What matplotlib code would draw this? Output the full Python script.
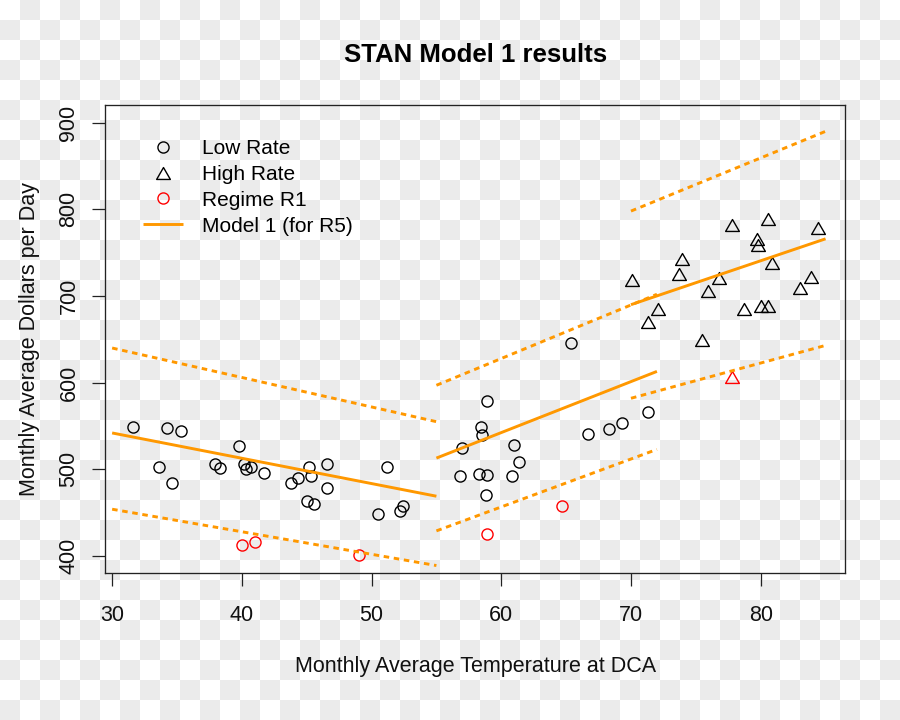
import numpy as np
import matplotlib
matplotlib.use("Agg")
from matplotlib import pyplot as plt
from matplotlib.path import Path


low_x = [31.6, 34.2, 35.3, 33.6, 34.6, 39.8, 37.9, 38.3, 40.2, 40.3, 40.7, 41.7,
         43.8, 44.3, 45.2, 45.3, 45.0, 45.6, 46.6, 46.6, 51.2, 50.5, 52.2, 52.4,
         58.9, 58.4, 58.5, 57.0, 56.8, 58.3, 58.9, 58.8, 61.0, 61.4, 60.8,
         65.4, 66.7, 68.3, 69.3, 71.3]
low_y = [549, 548, 544, 503, 484, 527, 506, 502, 506, 500, 503, 496,
         484, 490, 503, 492, 463, 460, 506, 478, 503, 449, 452, 458,
         579, 549, 540, 525, 492, 495, 493, 470, 528, 509, 492,
         646, 541, 546, 554, 566]

high_x = [70.1, 71.3, 72.1, 73.9, 73.7, 75.5, 75.9, 76.8, 77.8, 78.7, 79.7, 79.8,
          80.0, 80.6, 80.6, 80.9, 83.0, 83.9, 84.4]
high_y = [719, 670, 685, 743, 725, 649, 706, 721, 782, 685, 766, 759,
          688, 688, 789, 738, 709, 722, 778]

r1_x = [40.0, 41.0, 49.0, 58.9, 64.7]
r1_y = [413, 416, 401, 425, 458]
r1_high_x = [77.8]
r1_high_y = [607]

# Model 1 fit and interval, three pieces
seg_x = [(30, 55), (55, 72), (70, 85)]
fit_y = [(542, 469), (513, 613), (690, 766)]
upper_y = [(640, 555), (597, 702), (798, 890)]
lower_y = [(454, 389), (429, 523), (582, 643)]

orange = '#FF9800'

fig = plt.figure(figsize=(9, 7.2), dpi=100, facecolor='white')

# transparent-background checkerboard
rows, cols = np.indices((720, 900))
board = np.where(((rows // 20) + (cols // 20)) % 2 == 1, 0.925, 1.0)
board = np.dstack([board, board, board])
fig.figimage(board, xo=0, yo=0, origin='upper', zorder=-10)

ax = fig.add_axes([105 / 900, 147 / 720, 740 / 900, 468 / 720])
ax.set_facecolor('none')

# R style open triangle (pch = 2)
tri = Path([(-1, -0.866), (1, -0.866), (0, 0.866), (0, 0)],
           [Path.MOVETO, Path.LINETO, Path.LINETO, Path.CLOSEPOLY])

h_low, = ax.plot(low_x, low_y, linestyle='none', marker='o', ms=8.0, mfc='none',
                 mec='black', mew=1.0)
h_high, = ax.plot(high_x, high_y, linestyle='none', marker=tri, ms=9.9, mfc='none',
                  mec='black', mew=1.0)
h_r1, = ax.plot(r1_x, r1_y, linestyle='none', marker='o', ms=8.0, mfc='none',
                mec='red', mew=1.0)
ax.plot(r1_high_x, r1_high_y, linestyle='none', marker=tri, ms=9.9, mfc='none',
        mec='red', mew=1.0)

for xs, f, u, l in zip(seg_x, fit_y, upper_y, lower_y):
    h_fit, = ax.plot(xs, f, color=orange, lw=2.1, solid_capstyle='butt')
    ax.plot(xs, u, color=orange, lw=2.1, dashes=(1.9, 1.6))
    ax.plot(xs, l, color=orange, lw=2.1, dashes=(1.9, 1.6))

ax.set_xlim(29.45, 86.5)
ax.set_ylim(380.4, 920.4)
ax.set_xticks([30, 40, 50, 60, 70, 80])
ax.set_yticks([400, 500, 600, 700, 800, 900])

for s in ax.spines.values():
    s.set_linewidth(0.95)
    s.set_color('#222222')

ax.tick_params(axis='both', length=9.4, width=0.9, color='#222222',
               labelsize=15.5, labelcolor='#111111')
ax.tick_params(axis='x', pad=13.5)
ax.tick_params(axis='y', pad=9, labelrotation=90)
for lab in ax.get_yticklabels():
    lab.set_va('center')
for lab in ax.get_xticklabels() + ax.get_yticklabels():
    lab.set_family('Liberation Sans')

ax.legend([h_low, h_high, h_r1, h_fit],
          ['Low Rate', 'High Rate', 'Regime R1', 'Model 1 (for R5)'],
          loc='upper left', bbox_to_anchor=(143 / 900, 1 - 139 / 720),
          bbox_transform=fig.transFigure, frameon=False, borderpad=0,
          borderaxespad=0, handlelength=1.92, handletextpad=0.9,
          labelspacing=0.33, prop={'family': 'Liberation Sans', 'size': 15})

fig.text(476 / 900, 1 - 62 / 720, 'STAN Model 1 results', ha='center',
         va='baseline', fontsize=18.5, fontweight='bold', family='Liberation Sans')
fig.text(476 / 900, 1 - 672 / 720, 'Monthly Average Temperature at DCA',
         ha='center', va='baseline', fontsize=15.5, family='Liberation Sans',
         color='#111111')
fig.text(35 / 900, 1 - 339 / 720, 'Monthly Average Dollars per Day',
         ha='center', va='baseline', rotation=90, rotation_mode='anchor',
         fontsize=15.5, family='Liberation Sans', color='#111111')

fig.savefig('out.png', dpi=100, facecolor='white')
